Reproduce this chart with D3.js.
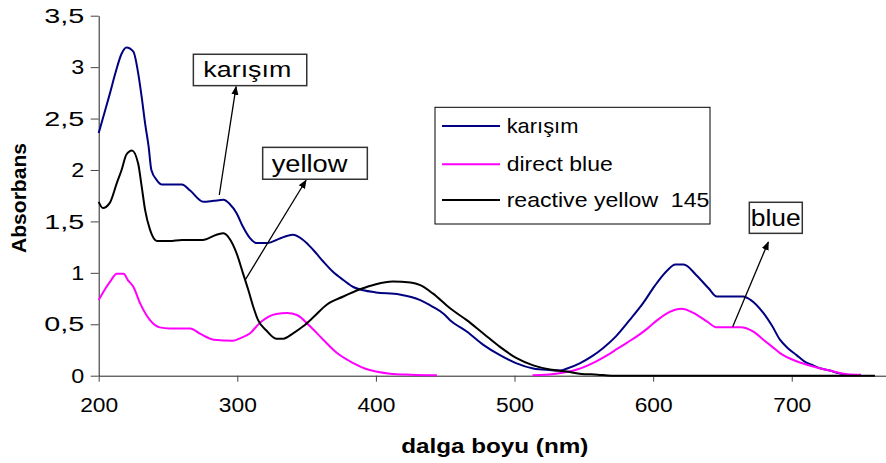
<!DOCTYPE html>
<html>
<head>
<meta charset="utf-8">
<script src="https://cdn.jsdelivr.net/npm/d3@7"></script>
<style>
  html, body { margin: 0; padding: 0; background: #fff; }
  svg { display: block; font-family: "Liberation Sans", Arial, sans-serif; }
  text { white-space: pre; }
</style>
</head>
<body>
<svg id="chart" width="886" height="463"></svg>
<script>
// ---------- DATA (wavelength nm, absorbance) ----------
const karisim = [
  [200,2.36],[204,2.55],[208,2.74],[212,2.94],[216.5,3.13],[220,3.19],[225,3.15],[228.5,2.94],
  [231,2.71],[233.5,2.45],[236,2.23],[238,2.0],[242,1.90],[245.5,1.86],[260,1.86],[266,1.80],
  [275.5,1.69],[283,1.70],[290,1.71],[294.5,1.67],[299.5,1.58],[304,1.45],[309,1.34],[314,1.29],
  [322,1.29],[330,1.33],[340,1.37],[347.5,1.32],[355,1.22],[362,1.11],[369,1.01],[376.5,0.93],
  [384,0.86],[391,0.83],[400,0.81],[417,0.79],[432,0.735],[441,0.67],[449,0.60],[453.5,0.54],
  [465.5,0.43],[477.5,0.30],[489.5,0.20],[501.5,0.12],[513.5,0.07],[525.5,0.055],[533,0.05],
  [538,0.07],[547,0.12],[556,0.19],[564,0.27],[573,0.38],[583,0.54],[593,0.71],[601,0.87],
  [610,1.02],[616,1.08],[622,1.08],[631,0.98],[640,0.85],[646,0.77],[665,0.77],[670,0.74],
  [679.5,0.61],[686,0.48],[691.5,0.35],[697,0.27],[703.5,0.20],[709,0.14],[715.5,0.10],
  [721,0.07],[727.5,0.05],[735,0.02],[740,0.01]
];
const directBlue = [
  [200,0.735],[205,0.85],[209,0.93],[213,0.99],[218,0.99],[221,0.93],[225,0.865],[230,0.70],
  [237,0.54],[244,0.47],[251,0.46],[266,0.46],[273,0.41],[283,0.35],[297,0.34],[303,0.37],
  [309,0.41],[316,0.51],[322,0.57],[328,0.60],[336,0.61],[343,0.59],[352.5,0.48],[362,0.35],
  [372,0.22],[384,0.12],[392,0.07],[400,0.04],[410,0.02],[425,0.01],[444,0.005],[450,null],
  [513,0.005],[530,0.02],[545,0.06],[559,0.14],[567,0.20],[574,0.26],[581,0.32],[588,0.38],[596,0.46],
  [603,0.54],[612,0.62],[620.5,0.65],[629,0.61],[639,0.525],[646,0.47],[663,0.47],[672,0.43],
  [679.5,0.35],[686,0.28],[691.5,0.22],[703.5,0.14],[715.5,0.09],[727.5,0.05],[740,0.015],[750,0.01]
];
const reactiveYellow = [
  [200,1.69],[203,1.63],[208,1.68],[213,1.87],[216.5,2.0],[220,2.15],[224,2.19],[228.5,2.06],
  [231,1.84],[233.5,1.61],[237,1.42],[242,1.31],[251,1.31],[260,1.32],[275,1.32],[285,1.37],
  [290,1.385],[295,1.32],[299.5,1.19],[304,1.0],[308,0.83],[311.5,0.67],[315,0.54],[321,0.44],
  [328,0.36],[333,0.36],[340,0.41],[347.5,0.48],[355,0.57],[364.5,0.69],[376.5,0.77],[388.5,0.84],
  [400,0.89],[412,0.915],[425,0.905],[432,0.88],[441,0.80],[453.5,0.655],[465.5,0.54],[477.5,0.41],
  [489.5,0.28],[501.5,0.17],[513.5,0.10],[525.5,0.06],[537.5,0.04],[547,0.02],[560,0.01],
  [570,0.0],[760,0.0]
];
const seriesNames = ["karışım", "direct blue", "reactive yellow  145"];
const xTicks = [200, 300, 400, 500, 600, 700];
const yTicks = [0, 0.5, 1, 1.5, 2, 2.5, 3, 3.5];
const yTickLabels = ["0", "0,5", "1", "1,5", "2", "2,5", "3", "3,5"];
const xTitle = "dalga boyu (nm)";
const yTitle = "Absorbans";
// callouts: label, box [nm0, nm1, Atop, Abottom], text anchor [nm, A], arrow [[nm,A] -> [nm,A]]
const calloutLabels = ["karışım", "yellow", "blue"];
const calloutBoxes = [[268.3, 350.1, 3.125, 2.82], [318.3, 393.8, 2.22, 1.91], [669.4, 707.6, 1.686, 1.384]];
const calloutText = [[275.5, 2.907], [324.8, 1.983], [670.4, 1.455]];
const calloutArrows = [[[287, 1.757], [299.1, 2.81]], [[305.6, 0.93], [349.6, 1.90]], [[657.4, 0.476], [683.1, 1.30]]];

// ---------- LAYOUT ----------
const svg = d3.select("#chart");
const x = d3.scaleLinear().domain([200, 768]).range([98.7, 886]);
const y = d3.scaleLinear().domain([0, 3.5]).range([375.7, 15.7]);
const colors = ["#000080", "#FF00FF", "#000000"];

// arrow marker
svg.append("defs").append("marker")
  .attr("id", "arrow").attr("viewBox", "0 0 10 10").attr("refX", 9).attr("refY", 5)
  .attr("markerWidth", 9).attr("markerHeight", 9).attr("markerUnits", "userSpaceOnUse")
  .attr("orient", "auto")
  .append("path").attr("d", "M0,1 L10,5 L0,9 Z").attr("fill", "#000");

// axes
const gx = svg.append("g").attr("transform", `translate(0,${y(0)})`)
  .call(d3.axisBottom(x).tickValues(xTicks).tickSize(6).tickSizeOuter(0).tickFormat(d3.format("d")));
gx.select(".domain").attr("stroke", "#222");
gx.selectAll(".tick line").attr("stroke", "#444");
gx.selectAll(".tick text").attr("y", 36).attr("dy", 0)
  .attr("font-size", 20).attr("fill", "#000").attr("font-family", "Liberation Sans, Arial, sans-serif")
  .attr("textLength", 38).attr("lengthAdjust", "spacingAndGlyphs");

const gy = svg.append("g").attr("transform", `translate(${x(200)},0)`)
  .call(d3.axisLeft(y).tickValues(yTicks).tickSize(8).tickSizeOuter(0)
    .tickFormat((d, i) => yTickLabels[i]));
gy.select(".domain").attr("stroke", "#222");
gy.selectAll(".tick line").attr("stroke", "#444");
gy.selectAll(".tick text").attr("x", -14.5).attr("dy", "0.34em")
  .attr("font-size", 19.5).attr("fill", "#000").attr("font-family", "Liberation Sans, Arial, sans-serif")
  .attr("textLength", (d, i) => yTickLabels[i].length > 1 ? 40 : 13)
  .attr("lengthAdjust", "spacingAndGlyphs");

// lines
const line = d3.line()
  .defined(d => d[1] !== null)
  .x(d => x(d[0])).y(d => y(d[1]))
  .curve(d3.curveMonotoneX);
[karisim, directBlue, reactiveYellow].forEach((s, i) => {
  svg.append("path").datum(s).attr("d", line)
    .attr("fill", "none").attr("stroke", colors[i]).attr("stroke-width", 2)
    .attr("stroke-linejoin", "round");
});

// axis titles
svg.append("text").attr("x", 494.8).attr("y", 453.3).attr("text-anchor", "middle")
  .attr("font-size", 20.5).attr("font-weight", "bold").attr("fill", "#000")
  .attr("textLength", 187).attr("lengthAdjust", "spacingAndGlyphs")
  .text(xTitle);
svg.append("text").attr("transform", "translate(26,198) rotate(-90)").attr("text-anchor", "middle")
  .attr("font-size", 19.5).attr("font-weight", "bold").attr("fill", "#000")
  .attr("textLength", 110).attr("lengthAdjust", "spacingAndGlyphs")
  .text(yTitle);

// legend
const lg = svg.append("g");
lg.append("rect").attr("x", 435).attr("y", 107.3).attr("width", 275).attr("height", 116.7)
  .attr("fill", "#fff").attr("stroke", "#000").attr("stroke-width", 1);
const legendY = [126, 164.3, 200];
const legendW = [71.7, 106, 202.7];
seriesNames.forEach((n, i) => {
  lg.append("line").attr("x1", 442).attr("x2", 500).attr("y1", legendY[i]).attr("y2", legendY[i])
    .attr("stroke", colors[i]).attr("stroke-width", 2);
  lg.append("text").attr("x", 506.7).attr("y", legendY[i] + 6.5)
    .attr("font-size", 21).attr("fill", "#000")
    .attr("textLength", legendW[i]).attr("lengthAdjust", "spacingAndGlyphs")
    .text(n);
});

// callouts
const calloutFont = [22, 23, 24];
const calloutW = [88, 75.7, 50];
calloutLabels.forEach((lab, i) => {
  const b = calloutBoxes[i];
  const a = calloutArrows[i];
  svg.append("line")
    .attr("x1", x(a[0][0])).attr("y1", y(a[0][1]))
    .attr("x2", x(a[1][0])).attr("y2", y(a[1][1]))
    .attr("stroke", "#000").attr("stroke-width", 1.3).attr("marker-end", "url(#arrow)");
  svg.append("rect")
    .attr("x", x(b[0])).attr("y", y(b[2]))
    .attr("width", x(b[1]) - x(b[0])).attr("height", y(b[3]) - y(b[2]))
    .attr("fill", "#fff").attr("stroke", "#333").attr("stroke-width", 1.5);
  svg.append("text").attr("x", x(calloutText[i][0])).attr("y", y(calloutText[i][1]))
    .attr("font-size", calloutFont[i]).attr("fill", "#000")
    .attr("textLength", calloutW[i]).attr("lengthAdjust", "spacingAndGlyphs")
    .text(lab);
});
</script>
</body>
</html>
